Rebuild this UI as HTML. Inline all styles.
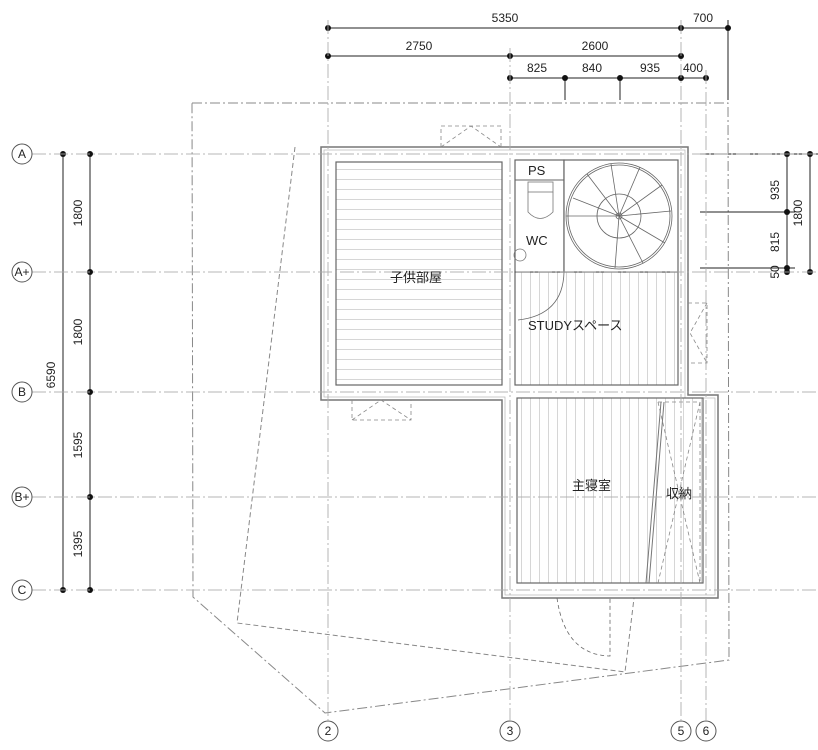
<!DOCTYPE html>
<html><head><meta charset="utf-8"><style>
html,body{margin:0;padding:0;background:#fff;width:818px;height:750px;overflow:hidden}
text{font-family:"Liberation Sans","Noto Sans CJK JP",sans-serif;fill:#222}
</style></head><body>
<svg width="818" height="750" viewBox="0 0 818 750" xmlns="http://www.w3.org/2000/svg">
<defs>
<pattern id="hz" width="10" height="10" patternUnits="userSpaceOnUse"><line x1="0" y1="9.5" x2="10" y2="9.5" stroke="#ccc" stroke-width="0.8"/></pattern>
<pattern id="vt" width="9" height="10" patternUnits="userSpaceOnUse"><line x1="8.5" y1="0" x2="8.5" y2="10" stroke="#ccc" stroke-width="0.8"/></pattern>
</defs>
<!-- roof outlines -->
<polygon points="192,103 728,103 729,660 325,713 193,597" fill="none" stroke="#888" stroke-width="1" stroke-dasharray="10,3,2,3"/>
<polyline points="295,147 237,623 625,672 658,402" fill="none" stroke="#888" stroke-width="1" stroke-dasharray="5,3"/>
<!-- dimension lines -->
<g stroke="#222" stroke-width="1">
<line x1="328" y1="28" x2="728" y2="28"/><line x1="328" y1="56" x2="681" y2="56"/><line x1="510" y1="78" x2="706" y2="78"/>
<line x1="728" y1="20" x2="728" y2="100"/>
<line x1="565" y1="78" x2="565" y2="100"/><line x1="620" y1="78" x2="620" y2="100"/>
<line x1="63" y1="154" x2="63" y2="590"/><line x1="90" y1="154" x2="90" y2="590"/>
<line x1="787" y1="154" x2="787" y2="272"/><line x1="810" y1="154" x2="810" y2="272"/>
<line x1="700" y1="154" x2="818" y2="154"/><line x1="700" y1="212" x2="795" y2="212"/><line x1="700" y1="268" x2="795" y2="268"/>
</g>
<g fill="#111">
<circle cx="328" cy="28" r="3"/><circle cx="681" cy="28" r="3"/><circle cx="728" cy="28" r="3"/>
<circle cx="328" cy="56" r="3"/><circle cx="510" cy="56" r="3"/><circle cx="681" cy="56" r="3"/>
<circle cx="510" cy="78" r="3"/><circle cx="565" cy="78" r="3"/><circle cx="620" cy="78" r="3"/><circle cx="681" cy="78" r="3"/><circle cx="706" cy="78" r="3"/>
<circle cx="63" cy="154" r="3"/><circle cx="63" cy="590" r="3"/>
<circle cx="90" cy="154" r="3"/><circle cx="90" cy="272" r="3"/><circle cx="90" cy="392" r="3"/><circle cx="90" cy="497" r="3"/><circle cx="90" cy="590" r="3"/>
<circle cx="787" cy="154" r="3"/><circle cx="787" cy="212" r="3"/><circle cx="787" cy="268" r="3"/><circle cx="787" cy="272" r="3"/>
<circle cx="810" cy="154" r="3"/><circle cx="810" cy="272" r="3"/>
</g>
<g font-size="12" text-anchor="middle">
<text x="505" y="22">5350</text><text x="703" y="22">700</text>
<text x="419" y="50">2750</text><text x="595" y="50">2600</text>
<text x="537" y="72">825</text><text x="592" y="72">840</text><text x="650" y="72">935</text><text x="693" y="72">400</text>
<text transform="translate(55,375) rotate(-90)">6590</text>
<text transform="translate(82,213) rotate(-90)">1800</text>
<text transform="translate(82,332) rotate(-90)">1800</text>
<text transform="translate(82,445) rotate(-90)">1595</text>
<text transform="translate(82,544) rotate(-90)">1395</text>
<text transform="translate(779,190) rotate(-90)">935</text>
<text transform="translate(779,242) rotate(-90)">815</text>
<text transform="translate(779,272) rotate(-90)">50</text>
<text transform="translate(802,213) rotate(-90)">1800</text>
</g>
<!-- walls -->
<path d="M321,147 H688 V395 H718 V598 H502 V400 H321 Z" fill="#fff" stroke="#777" stroke-width="1.5"/>
<path d="M324,150 H685 V398 H715 V595 H505 V397 H324 Z" fill="none" stroke="#bbb" stroke-width="0.8"/>
<rect x="336" y="162" width="166" height="223" fill="url(#hz)" stroke="#666" stroke-width="1.2"/>
<rect x="515" y="272" width="163" height="113" fill="url(#vt)" stroke="#666" stroke-width="1.2"/>
<rect x="517" y="398" width="186" height="185" fill="url(#vt)" stroke="#666" stroke-width="1.2"/>
<rect x="515" y="160" width="49" height="112" fill="#fff" stroke="#666" stroke-width="1.2"/>
<line x1="515" y1="180" x2="564" y2="180" stroke="#666"/>
<rect x="564" y="160" width="114" height="112" fill="#fff" stroke="#666" stroke-width="1.2"/>
<!-- stair -->
<g fill="none" stroke="#666" stroke-width="0.8">
<circle cx="619" cy="216" r="53"/><circle cx="619" cy="216" r="51"/><circle cx="619" cy="216" r="22"/><circle cx="619" cy="216" r="3"/>
<line x1="619" y1="216" x2="611" y2="164"/><line x1="619" y1="216" x2="640" y2="167"/><line x1="619" y1="216" x2="662" y2="185"/><line x1="619" y1="216" x2="671" y2="211"/><line x1="619" y1="216" x2="665" y2="243"/><line x1="619" y1="216" x2="643" y2="263"/><line x1="619" y1="216" x2="615" y2="268"/><line x1="619" y1="216" x2="587" y2="174"/><line x1="619" y1="216" x2="573" y2="198"/>
<line x1="566" y1="216" x2="619" y2="216"/>
</g>
<g fill="none" stroke="#777" stroke-width="0.8">
<rect x="528" y="182" width="25" height="10"/><path d="M528,192 V212 Q540,225 553,212 V192"/>
<circle cx="520" cy="255" r="6"/>
</g>
<path d="M518,320 Q563,315 564,272" fill="none" stroke="#666" stroke-width="0.8"/>
<path d="M557,598 Q565,655 610,656 V598" fill="none" stroke="#666" stroke-width="0.8" stroke-dasharray="4,3"/>
<g fill="none" stroke="#888" stroke-width="0.8" stroke-dasharray="4,3">
<path d="M441,147 V126 H501 V147 M441,147 L471,126 L501,147"/>
<path d="M352,400 V420 H411 V400 M352,420 L381,400 L411,420"/>
<path d="M688,303 H707 V363 H688 M707,303 L690,333 L707,363"/>
<path d="M658,402 H700 V583 M658,402 L700,583 M700,402 L658,583"/>
</g>
<line x1="661" y1="402" x2="646" y2="583" stroke="#777" stroke-width="1"/>
<line x1="664" y1="402" x2="649" y2="583" stroke="#777" stroke-width="1"/>
<!-- grid lines on top -->
<g stroke="#aaa" stroke-width="1" stroke-dasharray="14,3,2,3" fill="none" opacity="0.85">
<line x1="32" y1="154" x2="818" y2="154"/>
<line x1="32" y1="272" x2="818" y2="272"/>
<line x1="32" y1="392" x2="818" y2="392"/>
<line x1="32" y1="497" x2="818" y2="497"/>
<line x1="32" y1="590" x2="818" y2="590"/>
<line x1="328" y1="20" x2="328" y2="720"/>
<line x1="510" y1="48" x2="510" y2="720"/>
<line x1="681" y1="20" x2="681" y2="720"/>
<line x1="706" y1="70" x2="706" y2="720"/>
</g>
<g fill="#fff" stroke="#555" stroke-width="1">
<circle cx="22" cy="154" r="10"/><circle cx="22" cy="272" r="10"/><circle cx="22" cy="392" r="10"/><circle cx="22" cy="497" r="10"/><circle cx="22" cy="590" r="10"/>
<circle cx="328" cy="731" r="10"/><circle cx="510" cy="731" r="10"/><circle cx="681" cy="731" r="10"/><circle cx="706" cy="731" r="10"/>
</g>
<g font-size="12" text-anchor="middle">
<text x="22" y="158">A</text><text x="22" y="276">A+</text><text x="22" y="396">B</text><text x="22" y="501">B+</text><text x="22" y="594">C</text>
<text x="328" y="735">2</text><text x="510" y="735">3</text><text x="681" y="735">5</text><text x="706" y="735">6</text>
</g>
<g font-size="13">
<text x="390" y="282">子供部屋</text>
<text x="528" y="330">STUDYスペース</text>
<text x="528" y="175">PS</text>
<text x="526" y="245">WC</text>
<text x="572" y="490">主寝室</text>
<text x="666" y="498">収納</text>
</g>
</svg>
</body></html>
